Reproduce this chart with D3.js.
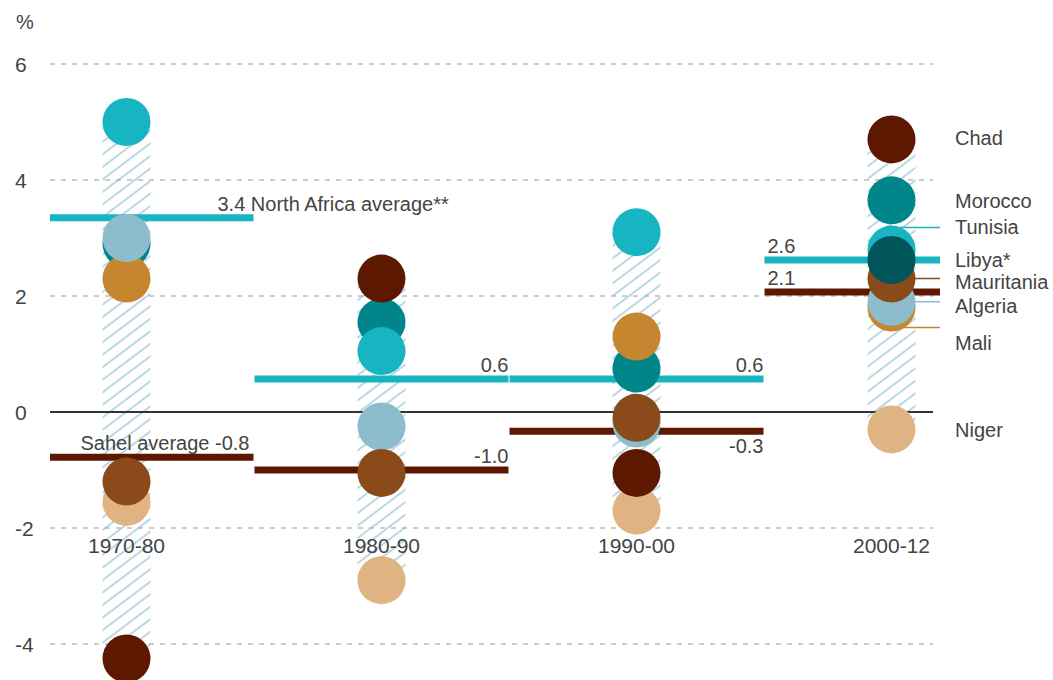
<!DOCTYPE html>
<html>
<head>
<meta charset="utf-8">
<script src="https://cdn.jsdelivr.net/npm/d3@7"></script>
<style>
	body { margin: 0; background: #fff; }
	text { font-family: "Liberation Sans", Arial, sans-serif; fill: #444; }
</style>
</head>
<body>
<svg id="chart" width="1053" height="680"></svg>
<script>
// periods on the x axis
var periods = ["1970-80", "1980-90", "1990-00", "2000-12"];
var y_ticks = [6, 4, 2, 0, -2, -4];

// growth per country and period, % (null = no point)
var morocco = [2.9, 1.55, 0.75, 3.65];
var tunisia = [5.0, 1.05, 3.1, 2.8];
var niger = [-1.55, -2.9, -1.7, -0.3];
var chad = [-4.25, 2.3, -1.05, 4.7];
var mali = [2.3, null, 1.3, 1.8];
var algeria = [3.0, -0.25, -0.2, 1.9];
var mauritania = [-1.2, -1.05, -0.1, 2.3];
var libya = [null, null, null, 2.62];

// regional averages
var north_africa_avg = [3.35, 0.57, 0.57, 2.62];
var north_africa_labels = ["3.4 North Africa average**", "0.6", "0.6", "2.6"];
var sahel_avg = [-0.78, -1.0, -0.33, 2.07];
var sahel_labels = ["Sahel average -0.8", "-1.0", "-0.3", "2.1"];

// drawing order, bottom first
var countries = [
	{name: "Morocco", values: morocco, color: "#00858a"},
	{name: "Tunisia", values: tunisia, color: "#16b5c1"},
	{name: "Niger", values: niger, color: "#dfb482"},
	{name: "Chad", values: chad, color: "#5c1800"},
	{name: "Mali", values: mali, color: "#c5862f"},
	{name: "Algeria", values: algeria, color: "#8dbdcc"},
	{name: "Mauritania", values: mauritania, color: "#8b4a1a"},
	{name: "Libya*", values: libya, color: "#00555a"}
];

var svg = d3.select("#chart");
var x = d3.scaleBand().domain(periods).range([-1, 1019]).paddingInner(0);
var y = d3.scaleLinear().domain([-4, 6]).range([644, 64]);
var r = 24;
var left = 50, right = 933;

function cx(p) {
	return x(p) + x.bandwidth() / 2;
}

// hatch pattern
var defs = svg.append("defs");
defs.append("pattern")
	.attr("id", "hatch")
	.attr("patternUnits", "userSpaceOnUse")
	.attr("width", 10).attr("height", 10)
	.attr("patternTransform", "rotate(-37)")
	.append("line")
	.attr("x1", 0).attr("y1", 5).attr("x2", 10).attr("y2", 5)
	.attr("stroke", "#8dbdcc").attr("stroke-width", 1.2);

// grid
svg.append("g").selectAll("line")
	.data(y_ticks.filter(function(t) { return t != 0; }))
	.enter().append("line")
	.attr("x1", left).attr("x2", right)
	.attr("y1", function(d) { return y(d); })
	.attr("y2", function(d) { return y(d); })
	.attr("stroke", "#9a9a9a")
	.attr("stroke-width", 1.2)
	.attr("stroke-dasharray", "5,6");

svg.append("g").selectAll("text")
	.data(y_ticks)
	.enter().append("text")
	.attr("x", 15)
	.attr("y", function(d) { return y(d); })
	.attr("dy", "0.36em")
	.attr("font-size", 21)
	.text(function(d) { return d; });

svg.append("text").attr("x", 16).attr("y", 22).attr("dy", "0.36em")
	.attr("font-size", 20).text("%");

// hatched range per period
periods.forEach(function(p, i) {
	var vals = [];
	countries.forEach(function(c) {
		if (c.values[i] != null) vals.push(c.values[i]);
	});
	var hi = d3.max(vals), lo = d3.min(vals);
	svg.append("rect")
		.attr("x", cx(p) - r)
		.attr("width", r * 2)
		.attr("y", y(hi))
		.attr("height", y(lo) - y(hi))
		.attr("fill", "url(#hatch)");
});

// zero line
svg.append("line")
	.attr("x1", left).attr("x2", right)
	.attr("y1", y(0)).attr("y2", y(0))
	.attr("stroke", "#333").attr("stroke-width", 2);

// average segments
function seg_start(p) { return Math.max(left, x(p) + 0.5); }
function seg_end(p) { return Math.min(940, x(p) + x.bandwidth() - 0.5); }

function draw_avg(values, color) {
	svg.append("g").selectAll("line")
		.data(periods)
		.enter().append("line")
		.attr("x1", seg_start)
		.attr("x2", seg_end)
		.attr("y1", function(p, i) { return y(values[i]); })
		.attr("y2", function(p, i) { return y(values[i]); })
		.attr("stroke", color)
		.attr("stroke-width", 7);
}

draw_avg(north_africa_avg, "#16b5c1");
draw_avg(sahel_avg, "#5c1800");

// leader lines to the country names
var leader_shift = {"Tunisia": -22, "Mali": 20};
var label_shift = {"Tunisia": -23, "Mali": 35, "Mauritania": 3, "Algeria": 4, "Chad": -2};
var leaders = ["Tunisia", "Mauritania", "Algeria", "Mali"];
var last = periods.length - 1;

countries.forEach(function(c) {
	if (leaders.indexOf(c.name) < 0) return;
	var ly = y(c.values[last]) + (leader_shift[c.name] || 0);
	svg.append("line")
		.attr("x1", cx(periods[last])).attr("x2", 940)
		.attr("y1", ly).attr("y2", ly)
		.attr("stroke", c.color).attr("stroke-width", 1.5);
});

// circles
countries.forEach(function(c) {
	svg.append("g").selectAll("circle")
		.data(periods.filter(function(p, i) { return c.values[i] != null; }))
		.enter().append("circle")
		.attr("cx", cx)
		.attr("cy", function(p) { return y(c.values[periods.indexOf(p)]); })
		.attr("r", r)
		.attr("fill", c.color);
});

// country names
countries.forEach(function(c) {
	svg.append("text")
		.attr("x", 955)
		.attr("y", y(c.values[last]) + (label_shift[c.name] || 0))
		.attr("dy", "0.36em")
		.attr("font-size", 20)
		.text(c.name);
});

// average labels
function avg_label(values, labels, i, anchor, px, below) {
	var ly = y(values[i]);
	svg.append("text")
		.attr("x", px)
		.attr("y", below ? ly + 22 : ly - 7)
		.attr("text-anchor", anchor)
		.attr("font-size", 20)
		.text(labels[i]);
}

avg_label(north_africa_avg, north_africa_labels, 0, "start", seg_end(periods[0]) - 36);
avg_label(north_africa_avg, north_africa_labels, 1, "end", seg_end(periods[1]));
avg_label(north_africa_avg, north_africa_labels, 2, "end", seg_end(periods[2]));
avg_label(north_africa_avg, north_africa_labels, 3, "start", seg_start(periods[3]) + 3);
avg_label(sahel_avg, sahel_labels, 0, "end", seg_end(periods[0]) - 4);
avg_label(sahel_avg, sahel_labels, 1, "end", seg_end(periods[1]));
avg_label(sahel_avg, sahel_labels, 2, "end", seg_end(periods[2]), true);
avg_label(sahel_avg, sahel_labels, 3, "start", seg_start(periods[3]) + 3);

// period labels
svg.append("g").selectAll("text")
	.data(periods)
	.enter().append("text")
	.attr("x", cx)
	.attr("y", y(-2) + 25)
	.attr("text-anchor", "middle")
	.attr("font-size", 21)
	.text(function(d) { return d; });
</script>
</body>
</html>
